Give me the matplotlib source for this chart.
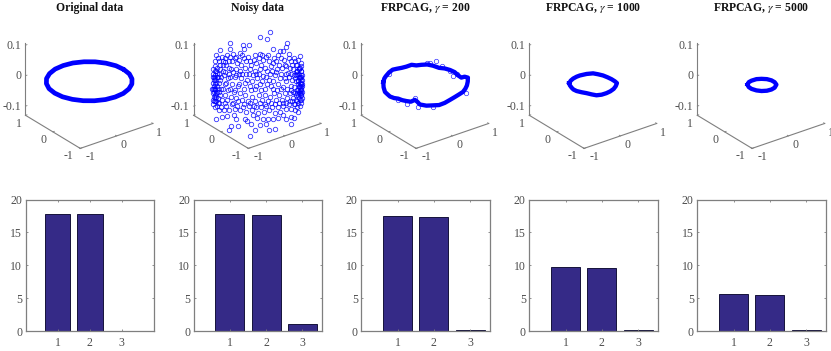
import matplotlib
matplotlib.use('Agg')
import matplotlib.pyplot as plt
import numpy as np
from mpl_toolkits.mplot3d import proj3d

plt.rcParams['font.family'] = ['Liberation Serif', 'DejaVu Serif']
plt.rcParams['mathtext.fontset'] = 'stix'

W, H = 831, 351
titles = ['Original data', 'Noisy data', 'FRPCAG, $\\gamma$ = 200',
          'FRPCAG, $\\gamma$ = 1000', 'FRPCAG, $\\gamma$ = 5000']
panel_left = [25.5, 193.6, 361.3, 529.3, 697.3]
panel_width = 128.4

# singular values under each panel
bar_labels = [1, 2, 3]
bars_original = [17.75, 17.75, 0.0]
bars_noisy = [17.75, 17.65, 1.05]
bars_200 = [17.5, 17.4, 0.2]
bars_1000 = [9.67, 9.65, 0.2]
bars_5000 = [5.62, 5.55, 0.12]

# the circle in its own plane
orig_x = [.95, .92, .82, .67, .475, .245, 0, -.245, -.475, -.67, -.82, -.92, -.95,
          -.92, -.82, -.67, -.475, -.245, 0, .245, .475, .67, .82, .92, .95]
orig_y = [0, .245, .475, .67, .82, .92, .95, .92, .82, .67, .475, .245, 0,
          -.245, -.475, -.67, -.82, -.92, -.95, -.92, -.82, -.67, -.475, -.245, 0]
orig_z = -0.005

# The other panels are read off the picture, so each point is (t, z): t is the
# horizontal position across the view, z the height.
noisy_pts = [
    (.29, .158), (.06, .14), (.22, .134), (-.32, .115), (-.18, .115), (-.61, .12), (.66, .12), (.63, .109),
    (.34, .102), (.50, .094), (.57, .093), (-.61, .102), (-.82, .096), (-.29, .102), (-.53, .085), (-.90, .08),
    (-.38, .087), (.06, .085), (.70, .085), (.93, .077),
    (-.92, .06), (-.87, .07), (-.83, .05), (-.78, .075), (-.72, .07), (-.66, .08), (-.6, .075), (-.56, .06),
    (-.5, .07), (-.44, .055), (-.4, .065), (-.35, .05), (-.3, .07), (-.24, .06), (-.2, .075), (-.13, .05),
    (-.08, .065), (-.02, .055), (.03, .07), (.09, .05), (.13, .065), (.19, .075), (.25, .06), (.3, .045),
    (.36, .07), (.42, .06), (.47, .05), (.52, .07), (.58, .065), (.64, .045), (.69, .07), (.74, .06),
    (.8, .072), (.85, .05), (.9, .065), (.95, .055),
    (-.93, .045), (-.88, .04), (-.81, .035), (-.75, .048), (-.68, .05), (-.63, .04), (-.57, .035), (-.46, .035),
    (-.38, .03), (-.27, .04), (-.16, .035), (-.05, .03), (.05, .035), (.16, .04), (.22, .03), (.33, .03),
    (.44, .035), (.55, .04), (.62, .02), (.71, .04), (.78, .035), (.87, .03), (.92, .04), (.96, .03),
    (-.97, .02), (-.95, .01), (-.98, -.01), (-.96, -.02), (-.94, .0), (-.92, .015), (-.9, -.01), (-.97, -.03),
    (-.95, -.04), (-.92, -.03), (-.89, -.02), (-.96, -.055), (-.93, -.05), (-.9, -.045), (-.87, -.03), (-.85, -.01),
    (-.86, .01), (-.83, .0), (-.98, -.065), (-.94, -.07), (-.9, -.07), (-.86, -.06), (-.82, -.05), (-.8, -.03),
    (-.97, .035), (-.93, .03), (-.88, .022), (-.84, .02), (-.8, .01), (-.97, -.08), (-.93, -.09), (-.88, -.085),
    (-.84, -.075), (-.78, -.065),
    (.97, .03), (.95, .015), (.98, .0), (.96, -.015), (.94, .005), (.92, .02), (.9, -.005), (.97, -.025),
    (.95, -.035), (.92, -.025), (.89, -.015), (.96, -.05), (.93, -.045), (.9, -.05), (.87, -.035), (.85, -.005),
    (.86, .015), (.83, .005), (.98, -.06), (.94, -.065), (.9, -.075), (.86, -.065), (.82, -.045), (.8, -.025),
    (.96, .045), (.93, .04), (.88, .03), (.84, .025), (.8, .015), (.97, -.075), (.93, -.085), (.88, -.09),
    (.83, -.08), (.78, -.06), (.99, -.04), (.91, .01),
    (-.74, .015), (-.68, -.01), (-.62, .02), (-.55, -.015), (-.5, .01), (-.43, -.02), (-.36, .005), (-.3, -.03),
    (-.22, .0), (-.17, -.02), (-.1, .015), (-.06, -.03), (0.0, .005), (.07, -.015), (.12, .012), (.18, -.03),
    (.26, .0), (.31, -.02), (.38, .015), (.45, -.015), (.5, .005), (.57, -.025), (.63, -.005), (.7, .01), (.75, -.02),
    (-.75, -.03), (-.7, -.05), (-.64, -.035), (-.58, -.055), (-.52, -.04), (-.46, -.06), (-.39, -.045), (-.33, -.065),
    (-.26, -.05), (-.2, -.07), (-.12, -.055), (-.04, -.07), (.03, -.05), (.1, -.065), (.17, -.05), (.23, -.07),
    (.29, -.055), (.36, -.045), (.41, -.065), (.48, -.05), (.54, -.065), (.6, -.045), (.66, -.06), (.72, -.045), (.76, -.07),
    (-.8, -.09), (-.74, -.1), (-.68, -.085), (-.62, -.1), (-.56, -.08), (-.5, -.095), (-.44, -.085), (-.38, -.1),
    (-.31, -.09), (-.25, -.105), (-.18, -.085), (-.11, -.1), (-.03, -.09), (.02, -.11), (.08, -.09), (.14, -.105),
    (.2, -.085), (.26, -.1), (.33, -.09), (.39, -.11), (.45, -.09), (.51, -.105), (.57, -.085), (.63, -.095),
    (.69, -.08), (.75, -.095), (.82, -.1), (.89, -.105),
    (-.90, -.128), (-.78, -.122), (-.58, -.153), (-.42, -.153), (-.63, -.166), (-.15, -.184), (-.05, -.164), (.07, -.15),
    (.25, -.166), (.38, -.161), (.73, -.146), (-.14, -.144), (.2, -.146), (.35, -.128), (-.09, -.117), (.13, -.128),
    (-.27, -.128), (-.52, -.117), (.57, -.117), (.75, -.122), (-.85, -.1), (-.66, -.12), (-.47, -.13), (-.22, -.135),
    (.0, -.125), (.23, -.13), (.46, -.125), (.62, -.13), (.8, -.125),
    # second pass over the crowded parts: both side clusters and the middle
    (.95, .0), (.97, -.01), (.93, -.01), (.96, -.03), (.94, -.02), (.98, -.02), (.92, -.04), (.95, -.05),
    (.97, -.045), (.93, .01), (.96, .01), (.91, -.02), (.94, -.035), (.98, .015), (.9, -.035), (.95, -.065),
    (.92, -.06), (.88, -.045), (.89, .0), (.87, .02), (.91, .035), (.85, -.05), (.87, -.07), (.99, -.015),
    (-.96, .0), (-.98, .01), (-.94, -.015), (-.97, -.045), (-.93, -.035), (-.95, -.03), (-.91, -.055), (-.94, -.06),
    (-.96, -.07), (-.92, .005), (-.89, .01), (-.88, -.04), (-.9, .03), (-.84, -.04), (-.86, -.075), (-.99, -.03),
    (-.76, .03), (-.7, .025), (-.65, .005), (-.59, .01), (-.53, .025), (-.47, .015), (-.41, .02), (-.33, .02),
    (-.25, .018), (-.19, .02), (-.12, -.005), (-.03, .018), (.04, .02), (.1, -.005), (.2, .01), (.28, .018),
    (.35, -.005), (.41, .025), (.53, .02), (.6, .005), (.67, .022), (.73, .02), (.77, .0),
    (-.72, -.015), (-.6, -.03), (-.48, -.035), (-.4, -.015), (-.27, -.012), (-.14, -.035), (-.02, -.02), (.09, -.035),
    (.22, -.015), (.34, -.03), (.43, -.035), (.52, -.03), (.65, -.03), (.73, -.035), (.79, -.04),
    (-.72, -.075), (-.66, -.065), (-.54, -.075), (-.42, -.07), (-.29, -.08), (-.16, -.075), (-.07, -.085), (.06, -.075),
    (.16, -.08), (.3, -.075), (.38, -.08), (.47, -.075), (.56, -.075), (.64, -.075), (.72, -.07), (.8, -.08),
    (-.72, .058), (-.62, .06), (-.47, .075), (-.33, .08), (-.17, .06), (-.05, .08), (.1, .08), (.23, .082),
    (.34, .055), (.45, .08), (.6, .05), (.77, .05), (.83, .062), (-.76, .06), (-.85, .06), (.88, .05),
]
ring_200 = [(-.917, -.008), (-.895, .004), (-.865, .011), (-.79, .024), (-.711, .033), (-.62, .036), (-.514, .039),
            (-.41, .043), (-.295, .049), (-.19, .047), (-.077, .049), (.05, .050), (.177, .046), (.31, .039),
            (.433, .037), (.55, .032), (.652, .025), (.73, .014), (.799, .007), (.87, .010), (.943, .007),
            (.94, -.006), (.921, -.019), (.885, -.030), (.834, -.040), (.75, -.048), (.652, -.057), (.55, -.066),
            (.433, -.076), (.31, -.083), (.177, -.084), (.03, -.085), (-.114, -.081), (-.17, -.072), (-.223, -.066),
            (-.31, -.072), (-.405, -.070), (-.50, -.067), (-.589, -.062), (-.68, -.060), (-.770, -.055),
            (-.83, -.047), (-.880, -.040), (-.91, -.025), (-.917, -.008)]
stray_200 = [(.252, .061), (.10, .056), (.615, .011), (.90, -.045), (-.15, -.09), (.18, -.09), (-.40, -.078),
             (-.60, -.068), (.55, .03), (.70, .02), (-.22, -.06), (.05, .055), (.38, .045), (-.80, .02)]
ring_1000 = [(-.523, -.011), (-.49, -.003), (-.435, .004), (-.36, .010), (-.289, .014), (-.14, .019), (.002, .021),
             (.11, .018), (.221, .014), (.32, .008), (.405, .002), (.48, -.005), (.527, -.011), (.50, -.021),
             (.455, -.030), (.38, -.038), (.295, -.044), (.19, -.049), (.077, -.051), (-.03, -.048), (-.142, -.044),
             (-.25, -.041), (-.361, -.037), (-.43, -.032), (-.470, -.026), (-.51, -.018), (-.523, -.011)]
ring_5000 = [(-.295, -.016), (-.27, -.008), (-.208, -.003), (-.10, .002), (.011, .003), (.13, .002), (.230, -.002),
             (.30, -.008), (.339, -.016), (.30, -.026), (.230, -.032), (.13, -.036), (.011, -.037), (-.10, -.035),
             (-.208, -.030), (-.27, -.024), (-.295, -.016)]

x_ticks = [-1, 0, 1]
z_ticks = [-0.1, 0, 0.1]
z_low, z_high = -0.13, 0.108
azim, elev = -127, 27.1
grey = '#7f7f7f'
text_grey = '#4d4d4d'
blue = '#0000ff'
bar_color = '#352a87'
tick_size = 8.5

fig = plt.figure(figsize=(W / 100, H / 100), dpi=100)


def to_px(ax, x, y, z):
    u, v, _ = proj3d.proj_transform(x, y, z, ax.get_proj())
    return ax.transData.transform((u, v))


def view_xyz(pts):
    # t runs across the view, so it splits over x and y by the view angle
    a = np.radians(azim)
    t = np.array([p[0] for p in pts])
    z = np.array([p[1] for p in pts])
    return t * -np.sin(a), t * np.cos(a), z


def make_3d(left):
    ax = fig.add_axes([0.1, 0.1, 0.3, 0.3], projection='3d')
    ax.set_proj_type('ortho')
    ax.view_init(elev=elev, azim=azim)
    ax.set_box_aspect((1, 1, 0.896))
    ax.set_xlim(-1, 1)
    ax.set_ylim(-1, 1)
    ax.set_zlim(z_low, z_high)
    ax.set_axis_off()
    ax.patch.set_alpha(0)
    # size and move the axes so the box corners land where they do in the picture
    side = 250.0
    cx, cy = left + 64, H - 80
    for i in range(3):
        ax.set_position([(cx - side / 2) / W, (cy - side / 2) / H, side / W, side / H])
        ax.apply_aspect()
        a = to_px(ax, -1, 1, z_low)
        b = to_px(ax, 1, -1, z_low)
        side = side * 127.4 / (b[0] - a[0])
        ax.set_position([(cx - side / 2) / W, (cy - side / 2) / H, side / W, side / H])
        ax.apply_aspect()
        a = to_px(ax, -1, 1, z_low)
        cx += left - a[0]
        cy += (H - 115.3) - a[1]
    ax.set_position([(cx - side / 2) / W, (cy - side / 2) / H, side / W, side / H])

    # axis lines
    ax.plot([-1, -1], [1, 1], [z_low, z_high], color=grey, lw=0.8)
    ax.plot([-1, -1], [-1, 1], [z_low, z_low], color=grey, lw=0.8)
    ax.plot([-1, 1], [-1, -1], [z_low, z_low], color=grey, lw=0.8)
    for v in z_ticks:
        ax.plot([-1, -0.96], [1, 1], [v, v], color=grey, lw=0.6)
        xy = proj3d.proj_transform(-1, 1, v, ax.get_proj())[:2]
        ax.annotate(str(v), xy=xy, xytext=(-4, -0.5), textcoords='offset pixels', ha='right', va='center',
                    fontsize=tick_size, color=text_grey, annotation_clip=False)
    x_off = [(10, -9), (7, -9), (6, -9.5)]
    y_off = [(-11.7, -8), (-9, -8), (-7, -8.7)]
    for v, o1, o2 in zip(x_ticks, x_off, y_off):
        ax.plot([v, v], [-1, -0.96], [z_low, z_low], color=grey, lw=0.6)
        ax.plot([-1, -0.96], [v, v], [z_low, z_low], color=grey, lw=0.6)
        xy = proj3d.proj_transform(v, -1, z_low, ax.get_proj())[:2]
        ax.annotate(str(v), xy=xy, xytext=o1, textcoords='offset pixels', ha='center', va='center',
                    fontsize=tick_size, color=text_grey, annotation_clip=False)
        xy = proj3d.proj_transform(-1, v, z_low, ax.get_proj())[:2]
        ax.annotate(str(v), xy=xy, xytext=o2, textcoords='offset pixels', ha='center', va='center',
                    fontsize=tick_size, color=text_grey, annotation_clip=False)
    return ax


def make_bar(left, vals, xmax):
    ax = fig.add_axes([left / W, (H - 331) / H, panel_width / W, 131.5 / H])
    ax.bar(bar_labels, vals, width=0.8, color=bar_color, edgecolor='#15123a', linewidth=0.7)
    ax.set_xlim(0, xmax)
    ax.set_ylim(0, 20)
    ax.set_xticks(bar_labels)
    ax.set_yticks([0, 5, 10, 15, 20])
    ax.tick_params(direction='in', length=1.3, width=0.6, color=grey, labelcolor=text_grey,
                   labelsize=tick_size, top=True, right=True, pad=2.5)
    ax.tick_params(axis='x', pad=4)
    for s in ax.spines.values():
        s.set_color(grey)
        s.set_linewidth(0.9)


ax = make_3d(panel_left[0])
ax.plot(orig_x, orig_y, [orig_z] * len(orig_x), color=blue, lw=3.4, solid_capstyle='round')

ax = make_3d(panel_left[1])
x, y, z = view_xyz(noisy_pts)
ax.plot(x, y, z, 'o', mfc='none', mec=blue, ms=3.2, mew=0.6, alpha=0.8)

ax = make_3d(panel_left[2])
x, y, z = view_xyz(ring_200)
ax.plot(x, y, z, color=blue, lw=3.1, solid_joinstyle='round')
x, y, z = view_xyz(stray_200)
ax.plot(x, y, z, 'o', mfc='none', mec=blue, ms=3.2, mew=0.5, alpha=0.8)

ax = make_3d(panel_left[3])
x, y, z = view_xyz(ring_1000)
ax.plot(x, y, z, color=blue, lw=3.1, solid_joinstyle='round')

ax = make_3d(panel_left[4])
x, y, z = view_xyz(ring_5000)
ax.plot(x, y, z, color=blue, lw=3.1, solid_joinstyle='round')

make_bar(panel_left[0], bars_original, 4)
make_bar(panel_left[1], bars_noisy, 3.54)
make_bar(panel_left[2], bars_200, 3.54)
make_bar(panel_left[3], bars_1000, 3.54)
make_bar(panel_left[4], bars_5000, 3.54)

for left, t in zip(panel_left, titles):
    fig.text((left + 64) / W, 1 - 8 / H, t, ha='center', va='center', fontsize=8.4, fontweight='bold', color='#111111')

fig.savefig('out.png', dpi=100)
